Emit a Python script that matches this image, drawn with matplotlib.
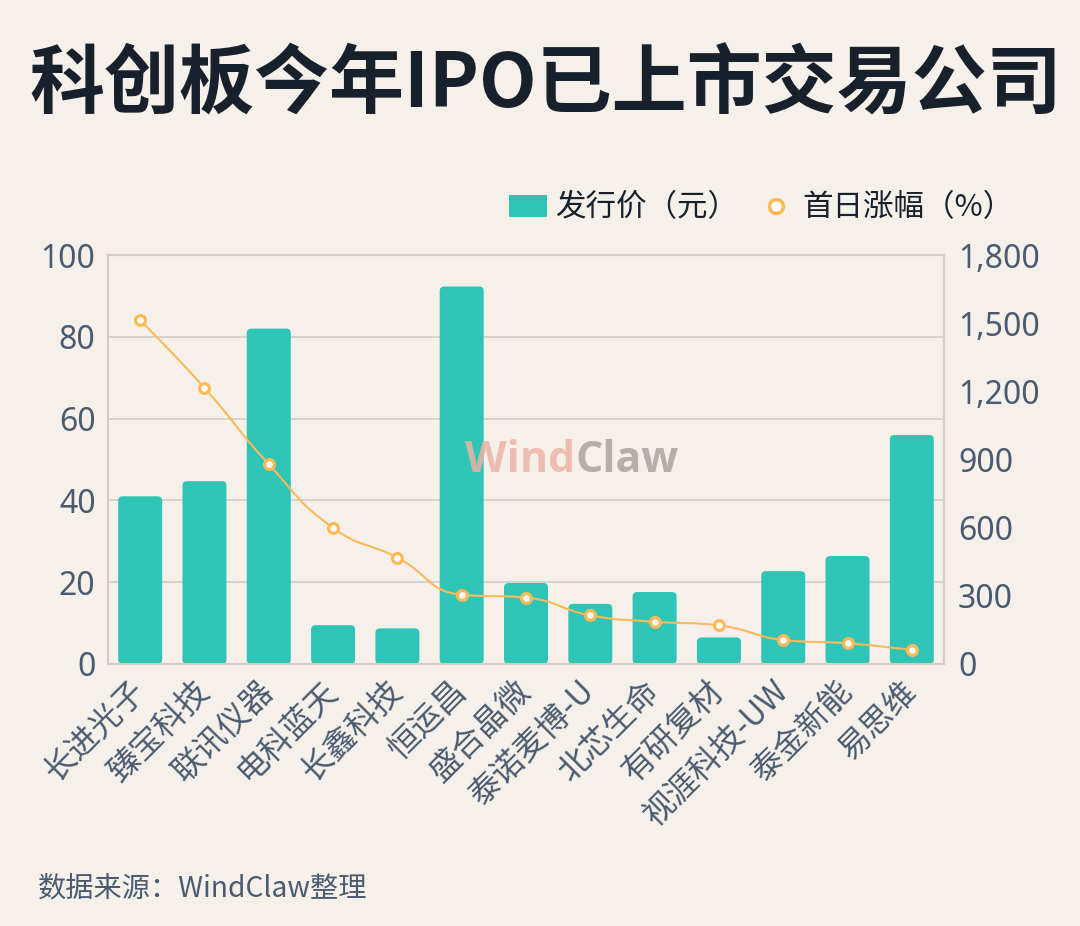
import numpy as np
import matplotlib
matplotlib.use("Agg")
import matplotlib.pyplot as plt
from matplotlib.patches import FancyBboxPatch, Patch
from matplotlib.lines import Line2D
from matplotlib.path import Path
from matplotlib.patches import PathPatch
from matplotlib.ticker import FuncFormatter

plt.rcParams['font.family'] = ['Noto Sans CJK SC', 'DejaVu Sans']

# 数据
companies = ["长进光子", "臻宝科技", "联讯仪器", "电科蓝天", "长鑫科技", "恒运昌", "盛合晶微",
             "泰诺麦博-U", "北芯生命", "有研复材", "视涯科技-UW", "泰金新能", "易思维"]
price = [41.0, 44.7, 82.0, 9.5, 8.7, 92.3, 19.8, 14.7, 17.6, 6.5, 22.7, 26.4, 56.0]
first_day = [1513, 1215, 879, 599, 468, 305, 292, 214, 186, 170, 106, 91, 62]
left_ticks = [0, 20, 40, 60, 80, 100]
right_ticks = [0, 300, 600, 900, 1200, 1500, 1800]

bg = "#F5F1EA"
teal = "#2EC4B6"
orange = "#FFB957"
grid_c = "#D2CEC7"
label_c = "#4A5A70"
dark = "#18212B"

W, H = 1080, 926
fig = plt.figure(figsize=(W / 100, H / 100), dpi=100, facecolor=bg)
ax = fig.add_axes([108 / W, 1 - 664 / H, (944 - 108) / W, (664 - 255) / H])
ax.set_facecolor(bg)
ax2 = ax.twinx()

n = len(companies)
x = np.arange(n)
ax.set_xlim(-0.5, n - 0.5)
ax.set_ylim(0, 100)
ax2.set_ylim(0, 1800)

# 圆角柱子
px_x = 836 / n          # 每个类别的像素宽
px_y = 409 / 100        # 左轴每单位像素
bw = 0.684
r = 4.5 / px_x
for xi, v in zip(x, price):
    p = FancyBboxPatch((xi - bw / 2, 0), bw, v,
                       boxstyle="round,pad=0,rounding_size=%f" % r,
                       mutation_aspect=(4.5 / px_y) / r,
                       fc=teal, ec="none", zorder=3)
    ax.add_patch(p)


# 平滑折线 (类似 echarts smooth)
def smooth_path(xs, ys, sx, sy, smooth=0.5):
    P = np.column_stack([np.asarray(xs) * sx, np.asarray(ys) * sy])
    m = len(P)
    cps = []
    for i in range(m):
        cur = P[i]
        if i == 0 or i == m - 1:
            cps.append((cur.copy(), cur.copy()))
            continue
        prev, nxt = P[i - 1], P[i + 1]
        v = nxt - prev
        l0 = np.hypot(*(cur - prev))
        l1 = np.hypot(*(nxt - cur))
        ratio = l1 / (l0 + l1)
        ncp = cur + v * smooth * ratio
        ncp = np.minimum(ncp, np.maximum(nxt, cur))
        ncp = np.maximum(ncp, np.minimum(nxt, cur))
        vv = ncp - cur
        cp0 = cur - vv * l0 / l1
        cp0 = np.minimum(cp0, np.maximum(prev, cur))
        cp0 = np.maximum(cp0, np.minimum(prev, cur))
        vv = cur - cp0
        ncp = cur + vv * l1 / l0
        cps.append((cp0, ncp))
    verts = [P[0]]
    codes = [Path.MOVETO]
    for i in range(m - 1):
        verts += [cps[i][1], cps[i + 1][0], P[i + 1]]
        codes += [Path.CURVE4] * 3
    verts = np.array(verts) / np.array([sx, sy])
    return Path(verts, codes)


path = smooth_path(x, first_day, px_x, 409 / 1800)
ax2.add_patch(PathPatch(path, fc="none", ec=orange, lw=1.5, zorder=4))
ax2.scatter(x, first_day, s=50, facecolor="white", edgecolor=orange, linewidth=2.3, zorder=5)

# 坐标轴
ax.set_yticks(left_ticks)
ax2.set_yticks(right_ticks)
ax2.yaxis.set_major_formatter(FuncFormatter(lambda v, p: f"{int(v):,}"))
ax.grid(axis="y", color=grid_c, lw=1.2, zorder=0)
ax.set_axisbelow(True)
for a in (ax, ax2):
    for s in a.spines.values():
        s.set_color(grid_c)
        s.set_linewidth(1.5)
    a.tick_params(length=0, labelsize=23, labelcolor=label_c)
for lab in ax.get_yticklabels() + ax2.get_yticklabels():
    lab.set_family(['Noto Sans', 'DejaVu Sans'])
ax.tick_params(axis="y", pad=9)
ax2.tick_params(axis="y", pad=10)

ax.set_xticks(x)
ax.set_xticklabels(companies, rotation=45, ha="right", va="center",
                   rotation_mode="anchor", fontsize=23, color=label_c)
ax.tick_params(axis="x", pad=16)

# 水印
wm_font = ['Open Sans', 'DejaVu Sans']
fig.text(575 / W, 1 - 461 / H, "Wind", fontsize=31, fontweight="bold", family=wm_font,
         color="#EDB3A6", alpha=0.85, ha="right", va="center", zorder=10)
fig.text(575 / W, 1 - 461 / H, "Claw", fontsize=31, fontweight="bold", family=wm_font,
         color="#A9A49C", alpha=0.85, ha="left", va="center", zorder=10)

# 图例
handles = [Patch(fc=teal, ec="none", label="发行价（元）"),
           Line2D([], [], marker="o", ls="none", markersize=10, mfc="white",
                  mec=orange, mew=2.5, label="首日涨幅（%）")]
leg = fig.legend(handles=handles, loc="center right", bbox_to_anchor=(1041 / W, 1 - 208 / H),
                 ncol=2, frameon=False, fontsize=22, handlelength=1.25, handleheight=0.7,
                 columnspacing=0.6, handletextpad=0.25)
for t in leg.get_texts():
    t.set_color(dark)

# 标题和来源
fig.text(546 / W, 1 - 86 / H, "科创板今年IPO已上市交易公司", ha="center", va="center",
         fontsize=54, fontweight="black", color=dark)
fig.text(38 / W, 1 - 888 / H, "数据来源：WindClaw整理", ha="left", va="center",
         fontsize=20.3, color=label_c)

fig.savefig("out.png", dpi=100, facecolor=bg)
